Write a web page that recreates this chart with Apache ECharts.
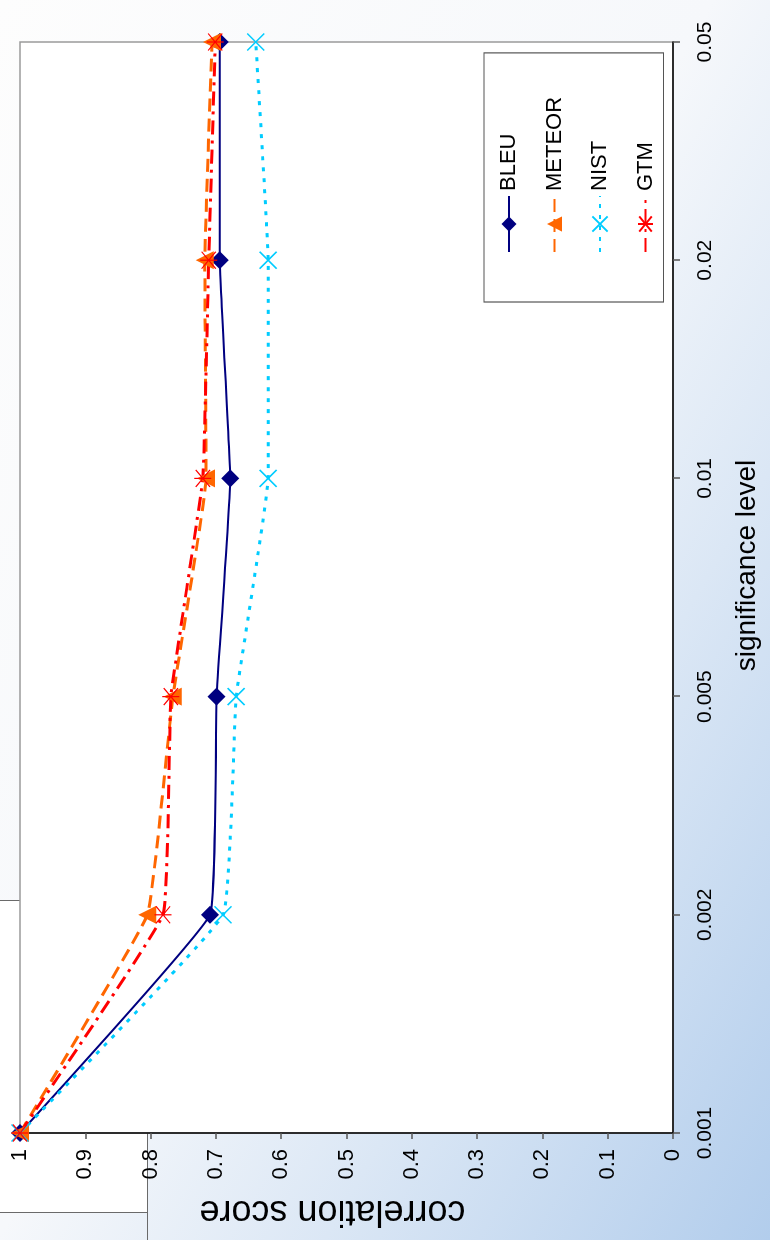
<!DOCTYPE html>
<html>
<head>
<meta charset="utf-8">
<script src="https://cdn.jsdelivr.net/npm/echarts@6/dist/echarts.min.js"></script>
<style>
  html, body { margin: 0; padding: 0; }
  body {
    width: 770px; height: 1240px; overflow: hidden; position: relative;
    background: linear-gradient(120deg, #fdfdfd 0%, #f6f8fb 48%, #dbe7f5 70%, #b2cdec 100%);
  }
  #deco {
    position: absolute; left: -2px; top: 900px; width: 148px; height: 311px;
    background: #ffffff; border: 1px solid #6a6a6a;
  }
  #deco2 {
    position: absolute; left: 147px; top: 1200px; width: 1px; height: 40px;
    background: #6a6a6a;
  }
  #chart {
    position: absolute; left: 0; top: 0; width: 1240px; height: 770px;
    transform-origin: 0 0; transform: translate(0, 1240px) rotate(-90deg);
  }
</style>
</head>
<body>
<div id="deco"></div>
<div id="deco2"></div>
<div id="chart"></div>
<script>
// ---- data ----
const categories = ['0.001', '0.002', '0.005', '0.01', '0.02', '0.05'];
const seriesNames = ['BLEU', 'METEOR', 'NIST', 'GTM'];
const bleu   = [1, 0.709, 0.699, 0.678, 0.694, 0.694];
const meteor = [1, 0.805, 0.766, 0.715, 0.717, 0.706];
const nist   = [1, 0.689, 0.669, 0.620, 0.620, 0.639];
const gtm    = [1, 0.781, 0.769, 0.720, 0.711, 0.701];
const xAxisTitle = 'significance level';
const yAxisTitle = 'correlation score';

const FONT = '"Liberation Sans", Arial, sans-serif';
const chart = echarts.init(document.getElementById('chart'), null, { renderer: 'canvas' });

const crossPath = 'path://M0,0L10,10M10,0L0,10';
const starPath = 'path://M0,0L10,10M10,0L0,10M5,-1L5,11';
const SMOOTH = 0.08;

chart.setOption({
  backgroundColor: 'transparent',
  animation: false,
  grid: {
    left: 107, right: 42, top: 20, bottom: 97,
    show: true, backgroundColor: '#ffffff', borderColor: '#9a9a9a', borderWidth: 1.5
  },
  legend: {
    orient: 'vertical',
    left: 938, top: 484,
    padding: [14, 44, 7, 49],
    itemGap: 23.5,
    itemWidth: 56, itemHeight: 19,
    backgroundColor: '#ffffff',
    borderColor: '#555555', borderWidth: 1.2,
    textStyle: { fontFamily: FONT, fontSize: 22, color: '#000', lineHeight: 21 },
    data: seriesNames
  },
  xAxis: {
    type: 'category',
    data: categories,
    boundaryGap: false,
    name: xAxisTitle,
    nameLocation: 'middle',
    nameGap: 60,
    nameTextStyle: { fontFamily: FONT, fontSize: 28, color: '#000', padding: [0, 0, 0, 44] },
    axisLine: { lineStyle: { color: '#000', width: 1.5 } },
    axisTick: { show: true, inside: false, length: 7, lineStyle: { color: '#555', width: 1.5 } },
    axisLabel: { fontFamily: FONT, fontSize: 21, color: '#000', margin: 22 },
    splitLine: { show: false }
  },
  yAxis: {
    type: 'value',
    min: 0, max: 1, interval: 0.1,
    name: yAxisTitle,
    nameLocation: 'middle',
    nameGap: 60,
    nameTextStyle: { fontFamily: FONT, fontSize: 36, color: '#000', padding: [0, 0, 0, 28] },
    axisLine: { show: true, lineStyle: { color: '#000', width: 1.5 } },
    axisTick: { show: true, inside: false, length: 6, lineStyle: { color: '#555', width: 1.5 } },
    axisLabel: { fontFamily: FONT, fontSize: 22, color: '#000', margin: 16 },
    splitLine: { show: false }
  },
  series: [
    {
      name: 'BLEU', type: 'line', data: bleu, smooth: SMOOTH, clip: false,
      symbol: 'diamond', symbolSize: 18,
      lineStyle: { color: '#000080', width: 2, type: 'solid' },
      itemStyle: { color: '#000080' }
    },
    {
      name: 'METEOR', type: 'line', data: meteor, smooth: SMOOTH, clip: false,
      symbol: 'triangle', symbolSize: 18,
      lineStyle: { color: '#FF6600', width: 3, type: [13, 7] },
      itemStyle: { color: '#FF6600' }
    },
    {
      name: 'NIST', type: 'line', data: nist, smooth: SMOOTH, clip: false,
      symbol: crossPath, symbolSize: 17,
      lineStyle: { color: '#00CCFF', width: 3, type: [4, 7] },
      itemStyle: { color: '#00CCFF', borderColor: '#00CCFF', borderWidth: 1.5 }
    },
    {
      name: 'GTM', type: 'line', data: gtm, smooth: SMOOTH, clip: false,
      symbol: starPath, symbolSize: 17,
      lineStyle: { color: '#FF0000', width: 3, type: [14, 6, 3, 6] },
      itemStyle: { color: '#FF0000', borderColor: '#FF0000', borderWidth: 1.2 }
    }
  ]
});
</script>
</body>
</html>
